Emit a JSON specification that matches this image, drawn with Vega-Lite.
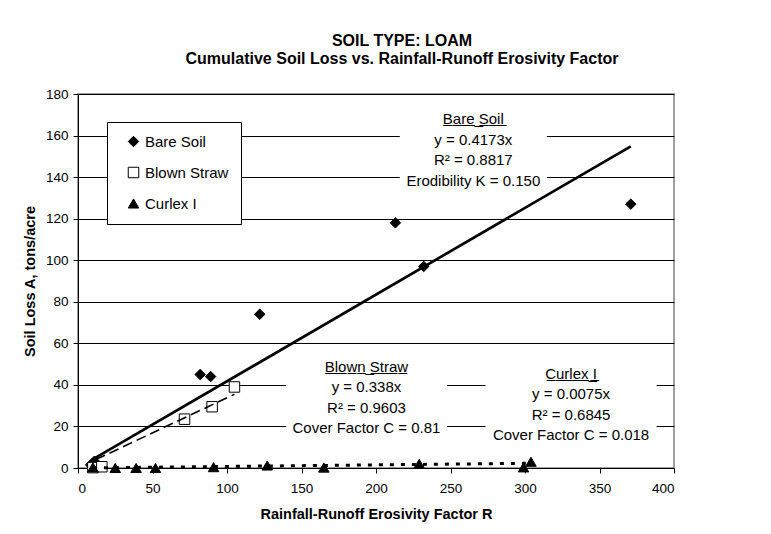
{
  "$schema": "https://vega.github.io/schema/vega-lite/v6.json",
  "width": 596,
  "height": 374,
  "autosize": {"type": "none"},
  "padding": {"left": 78, "top": 94, "right": 97, "bottom": 66},
  "background": "white",
  "title": {
    "text": ["SOIL TYPE: LOAM", "Cumulative Soil Loss vs. Rainfall-Runoff Erosivity Factor"],
    "font": "Liberation Sans",
    "fontSize": 16,
    "fontWeight": "bold",
    "color": "black",
    "lineHeight": 18,
    "anchor": "middle",
    "dx": 26,
    "offset": 20
  },
  "config": {
    "view": {"stroke": "#808080", "strokeWidth": 1.5},
    "font": "Liberation Sans",
    "axis": {
      "labelFont": "Liberation Sans",
      "labelFontSize": 13.5,
      "labelColor": "black",
      "titleFont": "Liberation Sans",
      "titleFontSize": 14.5,
      "titleFontWeight": "bold",
      "titleColor": "black",
      "domainColor": "black",
      "tickColor": "black",
      "tickSize": 5,
      "gridColor": "black",
      "gridWidth": 1,
      "gridOpacity": 1
    },
    "legend": {
      "orient": "none",
      "legendX": 29,
      "legendY": 28,
      "strokeColor": "black",
      "fillColor": "white",
      "padding": 12,
      "symbolOffset": 7,
      "labelOffset": 4,
      "labelFont": "Liberation Sans",
      "labelFontSize": 15,
      "labelColor": "black",
      "rowPadding": 15,
      "symbolSize": 110,
      "symbolStrokeWidth": 1
    }
  },
  "datasets": {
    "points": [
      {"series": "Bare Soil", "R": 8.5, "A": 1.5},
      {"series": "Bare Soil", "R": 11, "A": 3.2},
      {"series": "Bare Soil", "R": 82, "A": 45},
      {"series": "Bare Soil", "R": 89, "A": 44},
      {"series": "Bare Soil", "R": 122, "A": 74},
      {"series": "Bare Soil", "R": 213, "A": 118},
      {"series": "Bare Soil", "R": 232, "A": 97},
      {"series": "Bare Soil", "R": 371, "A": 127},
      {"series": "Blown Straw", "R": 10, "A": 0.2},
      {"series": "Blown Straw", "R": 16, "A": 0.6},
      {"series": "Blown Straw", "R": 71.5, "A": 23.5},
      {"series": "Blown Straw", "R": 90, "A": 29.5},
      {"series": "Blown Straw", "R": 105, "A": 39},
      {"series": "Curlex I", "R": 10, "A": 0.3},
      {"series": "Curlex I", "R": 25, "A": 0},
      {"series": "Curlex I", "R": 39, "A": 0},
      {"series": "Curlex I", "R": 52, "A": 0},
      {"series": "Curlex I", "R": 91, "A": 0.4},
      {"series": "Curlex I", "R": 127, "A": 1.2},
      {"series": "Curlex I", "R": 165, "A": 0.2},
      {"series": "Curlex I", "R": 229, "A": 2.0},
      {"series": "Curlex I", "R": 299, "A": 0.3},
      {"series": "Curlex I", "R": 304, "A": 3.0}
    ],
    "fits": [
      {"series": "Bare Soil", "R": 9, "A": 3.76},
      {"series": "Bare Soil", "R": 371, "A": 154.82},
      {"series": "Blown Straw", "R": 12, "A": 4.06},
      {"series": "Blown Straw", "R": 105, "A": 35.49},
      {"series": "Curlex I", "R": 10, "A": 0.075},
      {"series": "Curlex I", "R": 304, "A": 2.28}
    ],
    "notes": [
      {"series": "Bare Soil", "R": 265.3, "A": 152.9, "text": "B\u0332a\u0332r\u0332e\u0332 \u0332S\u0332o\u0332i\u0332l\u0332\ny = 0.4173x\nR² = 0.8817\nErodibility K = 0.150"},
      {"series": "Blown Straw", "R": 193.6, "A": 33.7, "text": "B\u0332l\u0332o\u0332w\u0332n\u0332 \u0332S\u0332t\u0332r\u0332a\u0332w\u0332\ny = 0.338x\nR² = 0.9603\nCover Factor C = 0.81"},
      {"series": "Curlex I", "R": 330.9, "A": 30.4, "text": "C\u0332u\u0332r\u0332l\u0332e\u0332x\u0332 \u0332I\u0332\ny = 0.0075x\nR² = 0.6845\nCover Factor C = 0.018"}
    ]
  },
  "encoding": {
    "x": {
      "field": "R", "type": "quantitative",
      "scale": {"domain": [0, 400], "nice": false},
      "axis": {
        "title": "Rainfall-Runoff Erosivity Factor R",
        "values": [0, 50, 100, 150, 200, 250, 300, 350, 400],
        "grid": false,
        "labelPadding": 8,
        "titlePadding": 13
      }
    },
    "y": {
      "field": "A", "type": "quantitative",
      "scale": {"domain": [0, 180], "nice": false},
      "axis": {
        "title": "Soil Loss A, tons/acre",
        "values": [0, 20, 40, 60, 80, 100, 120, 140, 160, 180],
        "grid": true,
        "labelPadding": 5,
        "titlePadding": 8
      }
    }
  },
  "layer": [
    {
      "data": {"name": "notes"},
      "transform": [{"filter": "datum.series === 'Bare Soil'"}],
      "mark": {"type": "point", "shape": "M-1,-0.571L1,-0.571L1,0.571L-1,0.571Z", "size": 21609, "filled": true, "fill": "white", "stroke": null, "opacity": 1}
    },
    {
      "data": {"name": "notes"},
      "transform": [{"filter": "datum.series === 'Blown Straw'"}],
      "mark": {"type": "point", "shape": "M-1,-0.522L1,-0.522L1,0.522L-1,0.522Z", "size": 25921, "filled": true, "fill": "white", "stroke": null, "opacity": 1}
    },
    {
      "data": {"name": "notes"},
      "transform": [{"filter": "datum.series === 'Curlex I'"}],
      "mark": {"type": "point", "shape": "M-1,-0.491L1,-0.491L1,0.491L-1,0.491Z", "size": 29241, "filled": true, "fill": "white", "stroke": null, "opacity": 1}
    },
    {
      "data": {"name": "points"},
      "mark": {"type": "point", "filled": true, "size": 110, "strokeWidth": 1, "opacity": 1},
      "encoding": {
        "shape": {
          "field": "series", "type": "nominal",
          "scale": {"domain": ["Bare Soil", "Blown Straw", "Curlex I"], "range": ["diamond", "square", "triangle-up"]},
          "legend": {"title": null}
        },
        "fill": {
          "field": "series", "type": "nominal",
          "scale": {"domain": ["Bare Soil", "Blown Straw", "Curlex I"], "range": ["black", "white", "black"]},
          "legend": {"title": null}
        },
        "stroke": {
          "field": "series", "type": "nominal",
          "scale": {"domain": ["Bare Soil", "Blown Straw", "Curlex I"], "range": ["black", "black", "black"]},
          "legend": {"title": null}
        }
      }
    },
    {
      "data": {"name": "fits"},
      "transform": [{"filter": "datum.series === 'Bare Soil'"}],
      "mark": {"type": "line", "color": "black", "strokeWidth": 2.7},
      "encoding": {}
    },
    {
      "data": {"name": "fits"},
      "transform": [{"filter": "datum.series === 'Blown Straw'"}],
      "mark": {"type": "line", "color": "black", "strokeWidth": 1.6, "strokeDash": [10, 5]},
      "encoding": {}
    },
    {
      "data": {"name": "fits"},
      "transform": [{"filter": "datum.series === 'Curlex I'"}],
      "mark": {"type": "line", "color": "black", "strokeWidth": 3, "strokeDash": [4, 7]},
      "encoding": {}
    },
    {
      "data": {"name": "notes"},
      "mark": {"type": "text", "font": "Liberation Sans", "fontSize": 15, "color": "black", "lineBreak": "\n", "lineHeight": 20.5, "align": "center", "baseline": "middle", "dy": -31},
      "encoding": {"text": {"field": "text", "type": "nominal"}}
    }
  ]
}
